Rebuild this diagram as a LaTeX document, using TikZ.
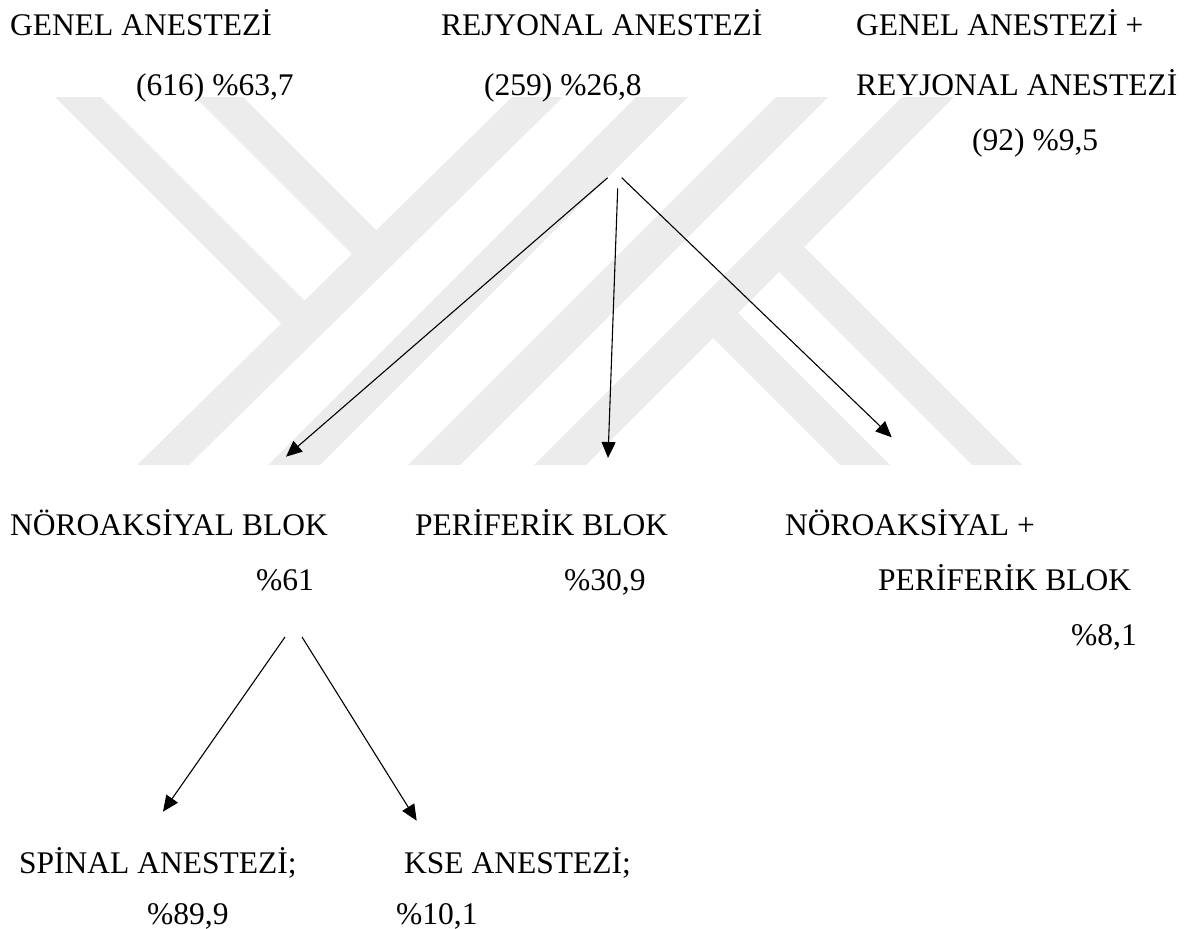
\documentclass[tikz,border=0pt]{standalone}
\usepackage{fontspec}
\setmainfont{Liberation Serif}
\usetikzlibrary{arrows.meta}
\definecolor{wm}{RGB}{236,236,236}
\begin{document}
\begin{tikzpicture}[x=1pt,y=-1pt,
  lbl/.style={anchor=base west,inner sep=0pt,font=\fontsize{31.5}{36}\selectfont},
  arr/.style={line width=1.1pt,-{Triangle[length=16pt,width=14pt]}},
  band/.style={fill=wm,draw=none}]
\useasboundingbox (0,0) rectangle (1195,929);
% faint background logo
\fill[band] (512,97) -- (563,97) -- (189,465) -- (137,465) -- cycle;
\fill[band] (55,97) -- (101,97) -- (310,306) -- (285,327) -- cycle;
\fill[band] (195,97) -- (243,97) -- (380,234) -- (355,257) -- cycle;
\fill[band] (636,97) -- (688,97) -- (320,465) -- (268,465) -- cycle;
\fill[band] (776,97) -- (828,97) -- (460,465) -- (408,465) -- cycle;
\fill[band] (902,97) -- (954,97) -- (586,465) -- (534,465) -- cycle;
\fill[band] (800,243) -- (1022,465) -- (972,465) -- (775,268) -- cycle;
\fill[band] (730,305) -- (890,465) -- (840,465) -- (705,330) -- cycle;
% row 1
\node[lbl] (ga) at (10,35) {GENEL ANESTEZİ};
\node[lbl] (ra) at (441,35) {REJYONAL ANESTEZİ};
\node[lbl] (gr1) at (856,35) {GENEL ANESTEZİ +};
% row 2
\node[lbl] (gap) at (136,95) {(616) \%63,7};
\node[lbl] (rap) at (484,95) {(259) \%26,8};
\node[lbl] (gr2) at (856,95) {REYJONAL ANESTEZİ};
% row 3
\node[lbl] (grp) at (972,150) {(92) \%9,5};
% row 4
\node[lbl] (nb) at (10,535) {NÖROAKSİYAL BLOK};
\node[lbl] (pb) at (415,535) {PERİFERİK BLOK};
\node[lbl] (np1) at (785,535) {NÖROAKSİYAL +};
% row 5
\node[lbl] (nbp) at (256,590) {\%61};
\node[lbl] (pbp) at (564,590) {\%30,9};
\node[lbl] (np2) at (878,590) {PERİFERİK BLOK};
% row 6
\node[lbl] (npp) at (1071,645) {\%8,1};
% row 7
\node[lbl] (sa) at (19,873) {SPİNAL ANESTEZİ;};
\node[lbl] (ka) at (404,873) {KSE ANESTEZİ;};
% row 8
\node[lbl] (sap) at (147,924) {\%89,9};
\node[lbl] (kap) at (396,924) {\%10,1};
% connector ends
\coordinate (s1) at (607.7,177.7);
\coordinate (s2) at (617.7,188.3);
\coordinate (s3) at (621.7,177.7);
\coordinate (e1) at (286,456.7);
\coordinate (e2) at (608,458);
\coordinate (e3) at (891.7,437.3);
\coordinate (s4) at (285,637);
\coordinate (s5) at (302,637);
\coordinate (e4) at (163,811.7);
\coordinate (e5) at (416.7,820.7);
\draw[arr] (s1) -- (e1);
\draw[arr] (s2) -- (e2);
\draw[arr] (s3) -- (e3);
\draw[arr] (s4) -- (e4);
\draw[arr] (s5) -- (e5);
\end{tikzpicture}
\end{document}
